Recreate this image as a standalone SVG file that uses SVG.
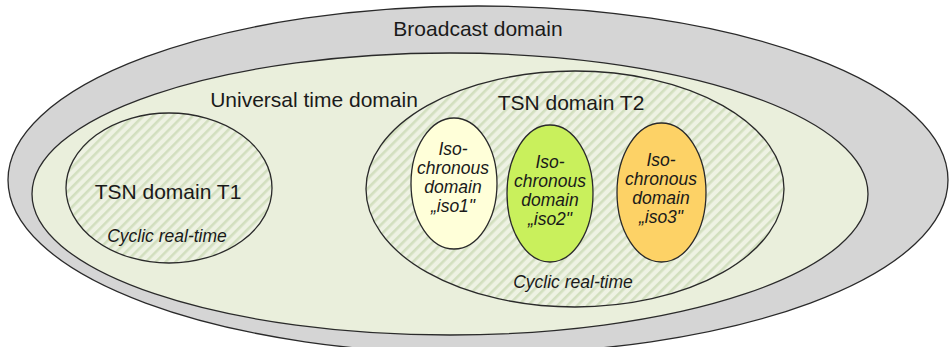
<svg xmlns="http://www.w3.org/2000/svg" width="949" height="347" viewBox="0 0 949 347">
  <defs>
    <!-- diagonal hatching used for the TSN domains -->
    <pattern id="hatch" width="7" height="7" patternUnits="userSpaceOnUse" patternTransform="rotate(45)">
      <rect width="7" height="7" fill="#eef2e3"/>
      <rect x="0" y="0" width="2.6" height="7" fill="#d2dfbf"/>
    </pattern>
    <style>
      .edge { stroke: #2a2a2a; stroke-width: 1.3; }
      .lbl { font-family: "Liberation Sans", Arial, sans-serif; fill: #1a1a1a; text-anchor: middle; }
      .big { font-size: 21px; }
      .it { font-style: italic; font-size: 17.5px; }
      .iso { font-style: italic; font-size: 17.5px; }
    </style>
  </defs>
  <rect width="949" height="347" fill="#ffffff"/>

  <g id="broadcast-domain">
    <ellipse class="edge" cx="478" cy="180" rx="470" ry="174" fill="#d5d5d5"/>
    <text class="lbl big" x="478" y="36">Broadcast domain</text>
  </g>

  <g id="universal-time-domain">
    <ellipse class="edge" cx="450" cy="194" rx="418" ry="141" fill="#eaefdc"/>
    <text class="lbl big" x="314" y="107">Universal time domain</text>
  </g>

  <g id="tsn-domain-t1">
    <ellipse class="edge" cx="169" cy="188" rx="103" ry="75" fill="url(#hatch)"/>
    <text class="lbl big" x="168" y="199">TSN domain T1</text>
    <text class="lbl it" x="167" y="242">Cyclic real-time</text>
  </g>

  <g id="tsn-domain-t2">
    <ellipse class="edge" cx="575" cy="189" rx="209" ry="118" fill="url(#hatch)"/>
    <text class="lbl big" x="571" y="110">TSN domain T2</text>
    <text class="lbl it" x="573" y="288">Cyclic real-time</text>
  </g>

  <g id="iso1">
    <ellipse class="edge" cx="454" cy="183.5" rx="43" ry="65.5" fill="#ffffd9"/>
    <text class="lbl iso" x="453" y="155">Iso-</text>
    <text class="lbl iso" x="453" y="174">chronous</text>
    <text class="lbl iso" x="453" y="193">domain</text>
    <text class="lbl iso" x="453" y="212">„iso1"</text>
  </g>

  <g id="iso2">
    <ellipse class="edge" cx="550" cy="193.5" rx="43" ry="68.5" fill="#c9f05c"/>
    <text class="lbl iso" x="550" y="168">Iso-</text>
    <text class="lbl iso" x="550" y="187">chronous</text>
    <text class="lbl iso" x="550" y="206">domain</text>
    <text class="lbl iso" x="550" y="225">„iso2"</text>
  </g>

  <g id="iso3">
    <ellipse class="edge" cx="661.5" cy="192.5" rx="44.5" ry="69.5" fill="#fdd266"/>
    <text class="lbl iso" x="661" y="166">Iso-</text>
    <text class="lbl iso" x="661" y="185">chronous</text>
    <text class="lbl iso" x="661" y="204">domain</text>
    <text class="lbl iso" x="661" y="223">„iso3"</text>
  </g>

  <g id="connectors"/>
</svg>
